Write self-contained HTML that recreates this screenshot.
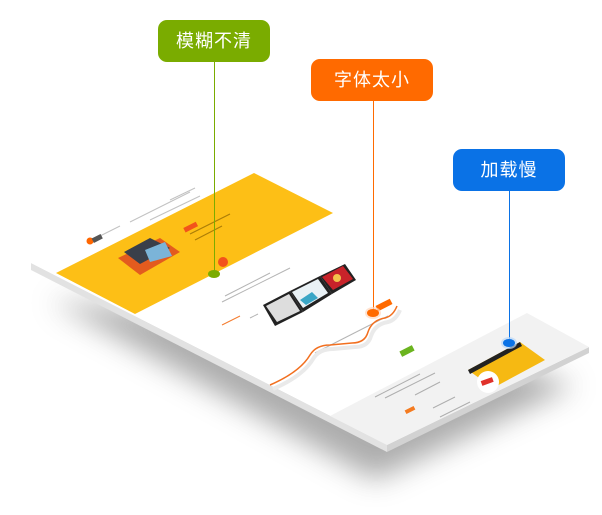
<!DOCTYPE html>
<html><head><meta charset="utf-8"><style>
html,body{margin:0;padding:0;background:#fff;}
.box{position:absolute;border-radius:9px;color:#fff;font:18px "Liberation Sans","Noto Sans CJK SC",sans-serif;text-align:center;line-height:42px;height:42px;letter-spacing:1px;}
</style></head><body>
<div style="position:relative;width:602px;height:515px;overflow:hidden;">
<svg width="602" height="515" viewBox="0 0 602 515" style="position:absolute;left:0;top:0">
<defs>
<filter id="sh" x="-30%" y="-30%" width="160%" height="160%"><feGaussianBlur stdDeviation="14"/></filter>
</defs>
<!-- shadow -->
<polygon points="50,300 375,480 575,385 420,340" fill="#8a8a8a" opacity="0.7" filter="url(#sh)"/>
<!-- plate thickness -->
<polygon points="31,263 387,445 387,452 31,270" fill="#e2e2e2"/>
<polygon points="387,445 589,347 589,353 387,452" fill="#d2d2d2"/>
<!-- plate top -->
<polygon points="31,263 240,155 589,347 387,445" fill="#ffffff"/>
<!-- gray lower band -->
<polygon points="330,416 527,313 589,347 387,445" fill="#f2f2f2"/>
<!-- yellow hero -->
<polygon points="56,273 254,173 333,213 135,314" fill="#fdbf16"/>
<!-- header text lines -->
<g stroke="#999" stroke-width="1" opacity="0.6">
<line x1="100" y1="236" x2="120" y2="226"/><line x1="130" y1="222" x2="190" y2="192"/>
<line x1="150" y1="220" x2="200" y2="196"/><line x1="170" y1="200" x2="195" y2="188"/>
</g>
<circle cx="90" cy="241" r="3.5" fill="#f60"/>
<rect x="92" y="236" width="10" height="5" fill="#555" transform="rotate(-27 97 238)"/>
<!-- hero image -->
<polygon points="118,258 160,238 180,252 140,275" fill="#e35b1e"/>
<polygon points="124,252 150,238 170,248 140,264" fill="#3a3f4a"/>
<polygon points="145,250 165,242 172,256 150,262" fill="#7bb4d8"/>
<rect x="184" y="225" width="14" height="5" fill="#f2531b" transform="rotate(-27 190 228)"/>
<g stroke="#8a6200" stroke-width="1.2" opacity="0.7">
<line x1="190" y1="234" x2="230" y2="214"/><line x1="195" y1="240" x2="222" y2="226"/>
</g>
<circle cx="223" cy="262" r="5" fill="#f2531b"/>
<!-- content lines -->
<g stroke="#777" stroke-width="1" opacity="0.55">
<line x1="222" y1="302" x2="290" y2="268"/><line x1="225" y1="296" x2="270" y2="273"/>
<line x1="250" y1="318" x2="258" y2="314"/><line x1="275" y1="305" x2="282" y2="301"/>
<line x1="300" y1="290" x2="306" y2="287"/><line x1="315" y1="283" x2="320" y2="280"/>
<line x1="315" y1="353" x2="370" y2="325"/><line x1="370" y1="325" x2="388" y2="316"/>
<line x1="375" y1="397" x2="420" y2="374"/><line x1="385" y1="398" x2="435" y2="373"/>
<line x1="415" y1="395" x2="440" y2="382"/><line x1="433" y1="408" x2="455" y2="397"/>
<line x1="440" y1="417" x2="470" y2="402"/>
</g>
<line x1="222" y1="325" x2="240" y2="316" stroke="#f47b2e" stroke-width="1"/>
<!-- laptops -->
<polygon points="263,305 290,291 303,312 275,326" fill="#222"/>
<polygon points="290,291 320,276 332,294 303,312" fill="#222"/>
<polygon points="266,306 289,294 300,311 277,322" fill="#ddd"/>
<polygon points="292,292 318,279 328,293 303,308" fill="#e9f1f5"/>
<polygon points="300,300 312,292 318,298 306,305" fill="#3aa6c6"/>
<polygon points="320,276 345,264 356,280 332,294" fill="#222"/>
<polygon points="322,277 343,266 353,279 333,290" fill="#c8232a"/>
<circle cx="337" cy="278" r="4" fill="#f3c34b"/>
<rect x="376" y="302" width="16" height="6" fill="#ff6a00" transform="rotate(-27 384 305)"/>
<!-- orange path -->
<path d="M270,385 Q300,372 310,355 Q316,345 330,345 L352,343 Q365,343 368,332 Q372,320 385,318 Q393,316 397,306" fill="none" stroke="#eaeaea" stroke-width="4" transform="translate(3,4)"/>
<path d="M270,385 Q300,372 310,355 Q316,345 330,345 L352,343 Q365,343 368,332 Q372,320 385,318 Q393,316 397,306" fill="none" stroke="#f26f1f" stroke-width="1.5"/>
<rect x="400" y="348" width="14" height="6" fill="#6bb41f" transform="rotate(-27 407 351)"/>
<!-- phone mockup -->
<polygon points="468,370 520,342 545,360 493,388" fill="#f6b912"/>
<polygon points="468,370 520,342 522,346 470,374" fill="#222"/>
<circle cx="488" cy="382" r="11" fill="#fff"/>
<rect x="481" y="379" width="12" height="5" fill="#e0322b" transform="rotate(-20 487 381)"/>
<rect x="405" y="408" width="10" height="4" fill="#f47b20" transform="rotate(-27 410 410)"/>
<!-- connectors -->
<line x1="214.5" y1="62" x2="214.5" y2="273" stroke="#7aac00" stroke-width="1"/>
<ellipse cx="214" cy="274" rx="6" ry="4" fill="#7aac00"/>
<line x1="373.5" y1="101" x2="373.5" y2="312" stroke="#ff6a00" stroke-width="1"/>
<ellipse cx="373" cy="313" rx="8" ry="6" fill="#ffd7bd" opacity="0.7"/>
<ellipse cx="373" cy="313" rx="6" ry="4" fill="#ff6a00"/>
<line x1="509.5" y1="191" x2="509.5" y2="342" stroke="#0a72e6" stroke-width="1"/>
<ellipse cx="509" cy="343" rx="8" ry="6" fill="#bcd8f8" opacity="0.7"/>
<ellipse cx="509" cy="343" rx="6" ry="4" fill="#0a72e6"/>
</svg>
<div class="box" style="left:158px;top:20px;width:112px;background:#7aac00;">模糊不清</div>
<div class="box" style="left:311px;top:59px;width:122px;background:#ff6a00;">字体太小</div>
<div class="box" style="left:453px;top:149px;width:112px;background:#0a72e6;">加载慢</div>
</div>
</body></html>
